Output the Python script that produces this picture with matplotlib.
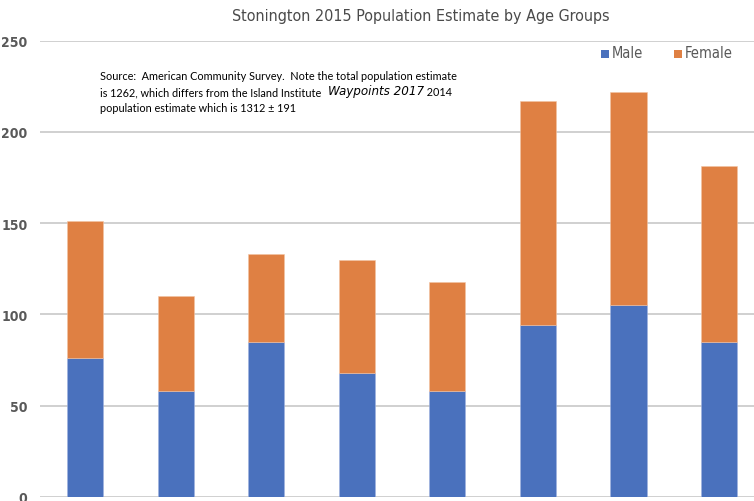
import matplotlib
matplotlib.use("Agg")
import matplotlib.pyplot as plt
from matplotlib.patches import Rectangle

age_groups = ["Under 10", "10-19", "20-29", "30-39", "40-49", "50-59", "60-69", "70+"]
male = [76, 58, 85, 68, 58, 94, 105, 85]
female = [75, 52, 48, 62, 60, 123, 117, 96]
series_names = ["Male", "Female"]
y_ticks = [0, 50, 100, 150, 200, 250]

title = "Stonington 2015 Population Estimate by Age Groups"
note_line1 = "Source:  American Community Survey.  Note the total population estimate"
note_line2a = "is 1262, which differs from the Island Institute "
note_line2b = "Waypoints 2017"
note_line2c = " 2014"
note_line3 = "population estimate which is 1312 \u00b1 191"

narrow = dict(family="DejaVu Sans", stretch="condensed")
body = "Lato"

blue = "#4a71bd"
orange = "#df8043"
grey_text = "#595959"

W, H = 754, 502
fig = plt.figure(figsize=(W / 100, H / 100), dpi=100)
ax = fig.add_axes([40 / W, 4 / H, 1 - 40 / W, (498 - 41.5) / H])

x = list(range(len(age_groups)))
ax.bar(x, male, width=0.4, color=blue, edgecolor="#9fb3e0", linewidth=0.4, zorder=3)
ax.bar(x, female, width=0.4, bottom=male, color=orange, edgecolor="#f3c3a3", linewidth=0.4, zorder=3)

ax.set_ylim(0, 250)
ax.set_xlim(-0.5, (W - 85.5) / 90.5)
ax.set_yticks(y_ticks)
ax.set_yticklabels([str(v) for v in y_ticks], fontsize=10, color=grey_text, weight="bold", **narrow)
ax.set_xticks([])
ax.tick_params(axis="y", length=0, pad=9)
for s in ax.spines.values():
    s.set_visible(False)
ax.yaxis.grid(True, color="#c4c4c4", linewidth=1.1, zorder=0)
ax.set_axisbelow(True)

fig.text(421 / W, 1 - 16 / H, title, ha="center", va="center", fontsize=11.5,
         color="#4a4a4a", weight="normal", **narrow)

# legend drawn as colour squares with labels
for name, col, sx in zip(series_names, [blue, orange], [601, 674]):
    fig.patches.append(Rectangle((sx / W, 1 - 58.5 / H), 8 / W, 8 / H, transform=fig.transFigure,
                                 facecolor=col, edgecolor="none"))
    fig.text((sx + 11) / W, 1 - 54 / H, name, ha="left", va="center", fontsize=10.5,
             color=grey_text, **narrow)

fsize = 7.8
tx = 100 / W
fig.text(tx, 1 - 76.5 / H, note_line1, family=body, fontsize=fsize, va="center", color="black")
t2a = fig.text(tx, 1 - 92.5 / H, note_line2a, family=body, fontsize=fsize, va="center", color="black")
fig.canvas.draw()
r = fig.canvas.get_renderer()
bb = t2a.get_window_extent(r)
t2b = fig.text(bb.x1 / fig.bbox.width + 4 / W, 1 - 92 / H, note_line2b, style="italic",
               fontsize=9.5, va="center", color="black", **narrow)
bb2 = t2b.get_window_extent(r)
fig.text(bb2.x1 / fig.bbox.width, 1 - 92.5 / H, note_line2c, family=body, fontsize=fsize,
         va="center", color="black")
fig.text(tx, 1 - 108.5 / H, note_line3, family=body, fontsize=fsize, va="center", color="black")

fig.savefig("out.png", dpi=100)
